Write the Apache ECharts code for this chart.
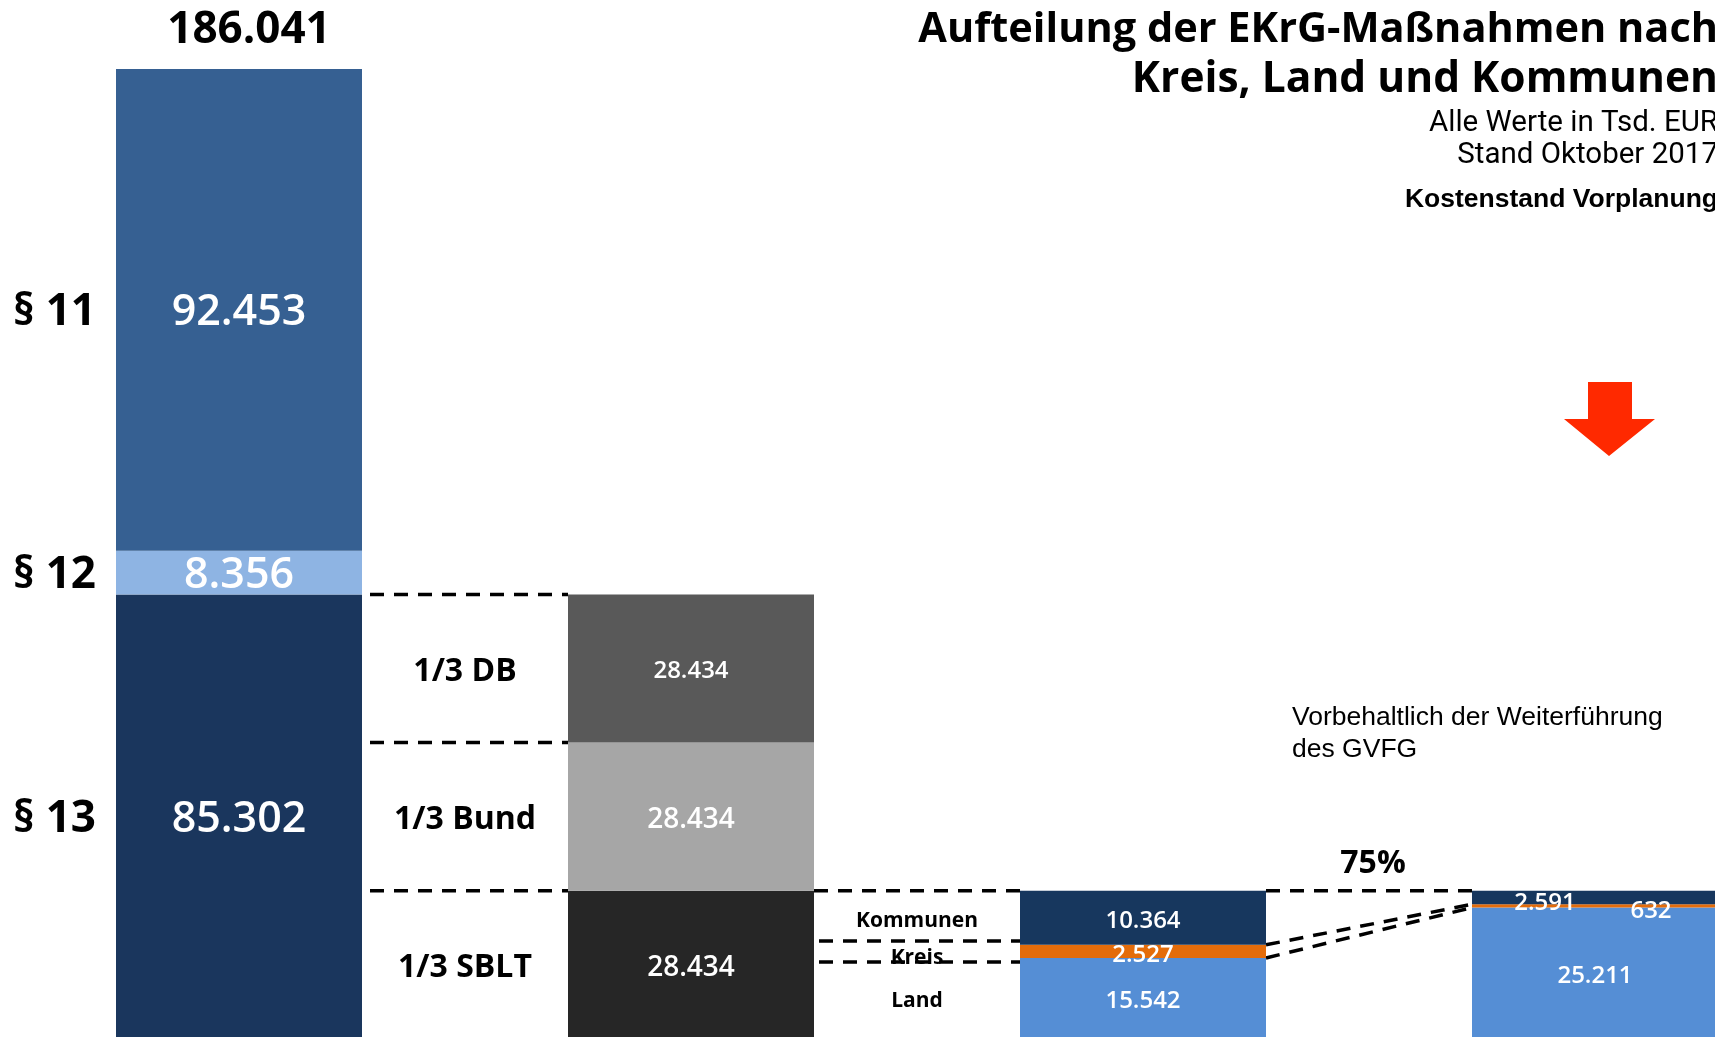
<!DOCTYPE html>
<html><head><meta charset="utf-8">
<script src="https://cdn.jsdelivr.net/npm/echarts@6/dist/echarts.min.js"></script>
<style>html,body{margin:0;padding:0;background:#fff;overflow:hidden}#c{width:1715px;height:1037px}</style>
</head><body><div id="c"></div>
<script>
// ---- data ----
const categories = ['Gesamtkosten', 'Kostenteilung § 13', 'Anteil SBLT', 'Anteil 75%'];
const bottomValues = [85302, 28434, 15542, 25211];
const middleValues = [8356, 28434, 2527, 632];
const topValues = [92453, 28434, 10364, 2591];
const bottomNames = ['§ 13', '1/3 SBLT', 'Land', ''];
const middleNames = ['§ 12', '1/3 Bund', 'Kreis', ''];
const topNames = ['§ 11', '1/3 DB', 'Kommunen', ''];
const totalValue = 186041;
const shareLabel = '75%';
const titleLines = ['Aufteilung der EKrG-Maßnahmen nach', 'Kreis, Land und Kommunen'];
const subtitleLines = ['Alle Werte in Tsd. EUR', 'Stand Oktober 2017'];
const noteBold = 'Kostenstand Vorplanung';
const noteLines = ['Vorbehaltlich der Weiterführung', 'des GVFG'];

// ---- styles ----
const bottomColors = ['#1a365d', '#262626', '#558ed5', '#558ed5'];
const middleColors = ['#8eb4e3', '#a6a6a6', '#e46c0a', '#e46c0a'];
const topColors = ['#366092', '#595959', '#17375e', '#17375e'];
const bottomSizes = [43, 28, 24, 24];
const middleSizes = [43, 28, 24, 24];
const topSizes = [43, 24, 24, 24];
const middleOffsets = [[0,3],[0,3],[0,4],[56,5]];
const topOffsets = [[0,3],[0,3],[0,3],[-50,6]];
const bottomOffsets = [[0,3],[0,3],[0,3],[0,3]];
const BAR_W = 246;
const FONT = 'Open Sans';
const DY = 3;

const fmt = n => String(n).replace(/\B(?=(\d{3})+(?!\d))/g, '.');
const stackMax = bottomValues[0] + middleValues[0] + topValues[0];

function mk(name, vals, colors, sizes, offsets) {
  return {
    type: 'bar', name: name, stack: 's', barWidth: BAR_W,
    data: vals.map((v, i) => ({
      value: v,
      itemStyle: { color: colors[i] },
      label: { fontSize: sizes[i], offset: offsets[i] }
    })),
    label: { show: true, position: 'inside', color: '#fff', fontFamily: FONT, fontWeight: 600,
      formatter: p => fmt(p.value) },
    emphasis: { disabled: true }, silent: true
  };
}

const chart = echarts.init(document.getElementById('c'));
chart.setOption({
  animation: false,
  backgroundColor: '#fff',
  grid: { left: 13, width: 1808, top: 69, height: 970, containLabel: false, outerBoundsMode: 'none' },
  xAxis: { type: 'category', data: categories, show: false },
  yAxis: { type: 'value', min: 0, max: stackMax, show: false },
  series: [
    mk('unten', bottomValues, bottomColors, bottomSizes, bottomOffsets),
    mk('mitte', middleValues, middleColors, middleSizes, middleOffsets),
    mk('oben', topValues, topColors, topSizes, topOffsets)
  ]
});

const P = (ci, v) => chart.convertToPixel({ xAxisIndex: 0, yAxisIndex: 0 }, [ci, v]);
const cx = ci => P(ci, 0)[0];
const yv = (ci, v) => P(ci, v)[1];
const left = ci => cx(ci) - BAR_W / 2;
const right = ci => cx(ci) + BAR_W / 2;
const cum = ci => [0, bottomValues[ci], bottomValues[ci] + middleValues[ci], bottomValues[ci] + middleValues[ci] + topValues[ci]];

const g = [];
function txt(x, y, text, size, weight, align, family, fill) {
  g.push({ type: 'text', x: x, y: y + DY, silent: true,
    style: { text: text, fontSize: size, fontWeight: weight, fontFamily: family || FONT,
      fill: fill || '#000', textAlign: align || 'center', textVerticalAlign: 'middle', verticalAlign: 'middle' } });
}
function dash(x1, y1, x2, y2) {
  g.push({ type: 'line', silent: true, shape: { x1: x1, y1: y1, x2: x2, y2: y2 },
    style: { stroke: '#000', lineWidth: 3.5, lineDash: [14, 10] } });
}
const namesBy = [bottomNames, middleNames, topNames];

// side labels
for (let ci = 0; ci < 3; ci++) {
  const c = cum(ci);
  for (let k = 0; k < 3; k++) {
    const name = namesBy[k][ci];
    if (!name) continue;
    const ym = yv(ci, (c[k] + c[k + 1]) / 2);
    if (ci === 0) txt(left(0) - 20, ym, name, 44, 700, 'right');
    else if (ci === 1) txt((right(0) + left(1)) / 2, ym, name, 32, 700, 'center');
    else txt((right(1) + left(2)) / 2, ym + (k === 1 ? 4 : 0), name, 21, 700, 'center');
  }
}

// total on top of first column
txt(cx(0) + 10, yv(0, stackMax) - 42, fmt(totalValue), 44, 700, 'center');

// dashed connectors col1 -> col2
const c1 = cum(1);
[c1[3], c1[2], c1[1]].forEach(v => dash(right(0) + 8, yv(1, v), left(1), yv(1, v)));
// col2 -> col3
const c2 = cum(2);
dash(right(1), yv(2, c2[3]), left(2) + 4, yv(2, c2[3]));
const kreisMid = yv(2, (c2[1] + c2[2]) / 2);
dash(right(1) + 5, kreisMid - 10.5, left(2) + 4, kreisMid - 10.5);
dash(right(1) + 5, kreisMid + 10.5, left(2) + 4, kreisMid + 10.5);
// col3 -> col4
const c3 = cum(3);
dash(right(2), yv(2, c2[3]), left(3), yv(3, c3[3]));
dash(right(2), yv(2, c2[2]), left(3), yv(3, c3[2]));
dash(right(2), yv(2, c2[1]), left(3), yv(3, c3[1]));

// 75%
txt((right(2) + left(3)) / 2 + 4, yv(3, c3[3]) - 30, shareLabel, 32, 700, 'center');

// titles and notes
txt(1718, 27, titleLines[0], 41.5, 700, 'right');
txt(1718, 77, titleLines[1], 42.5, 700, 'right');
txt(1718, 121, subtitleLines[0], 29.5, 400, 'right', 'Roboto');
txt(1718, 153, subtitleLines[1], 29.5, 400, 'right', 'Roboto');
txt(1718, 197, noteBold, 26.5, 700, 'right', 'Liberation Sans');
txt(1292, 715, noteLines[0], 26.5, 400, 'left', 'Liberation Sans');
txt(1292, 747, noteLines[1], 26.5, 400, 'left', 'Liberation Sans');

// red arrow
g.push({ type: 'polygon', silent: true,
  shape: { points: [[1588,382],[1632,382],[1632,419],[1655,419],[1609,456],[1564,419],[1588,419]] },
  style: { fill: '#ff2900' } });

chart.setOption({ graphic: g });
</script>
</body></html>
